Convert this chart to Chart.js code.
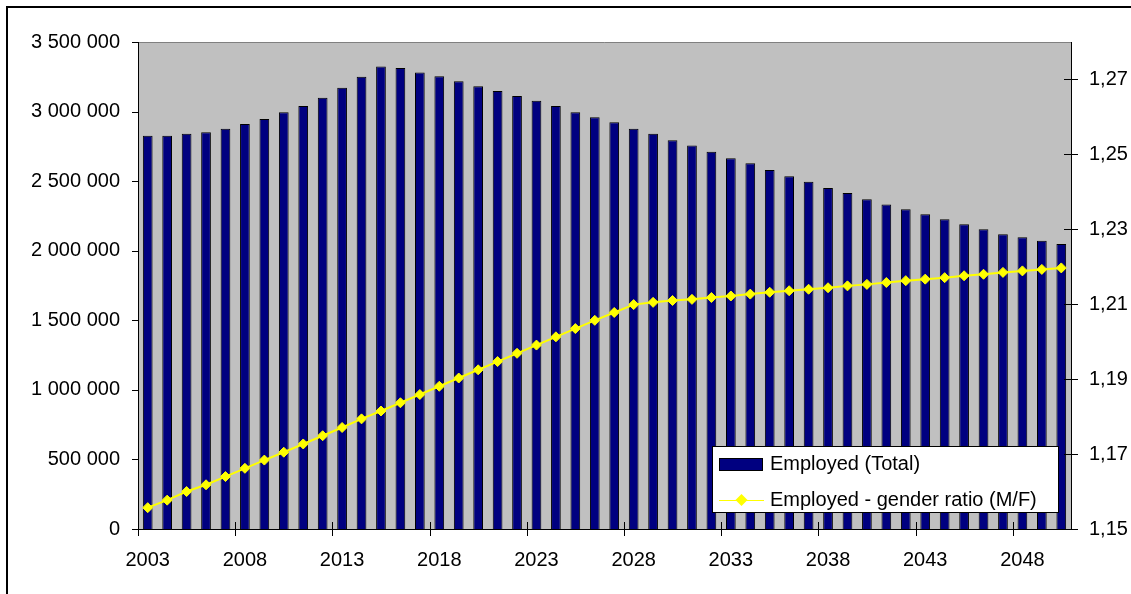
<!DOCTYPE html>
<html>
<head>
<meta charset="utf-8">
<title>Employed</title>
<script src="https://cdn.jsdelivr.net/npm/chart.js@4"></script>
<style>
    html, body { margin: 0; padding: 0; background: #fff; }
    #chart { display: block; }
</style>
</head>
<body>
<canvas id="chart" width="1131" height="594"></canvas>
<script>
// Data
const years = [
    '2003', '2004', '2005', '2006', '2007', '2008', '2009', '2010', '2011', '2012',
    '2013', '2014', '2015', '2016', '2017', '2018', '2019', '2020', '2021', '2022',
    '2023', '2024', '2025', '2026', '2027', '2028', '2029', '2030', '2031', '2032',
    '2033', '2034', '2035', '2036', '2037', '2038', '2039', '2040', '2041', '2042',
    '2043', '2044', '2045', '2046', '2047', '2048', '2049', '2050'
];

const employedTotal = [
    2827000, 2827000, 2841000, 2851000, 2877000, 2911000, 2947000, 2995000, 3040000, 3100000,
    3172000, 3251000, 3324000, 3313000, 3280000, 3254000, 3218000, 3182000, 3148000, 3112000,
    3078000, 3040000, 2995000, 2959000, 2923000, 2877000, 2841000, 2793000, 2757000, 2712000,
    2664000, 2628000, 2580000, 2535000, 2496000, 2451000, 2415000, 2369000, 2333000, 2298000,
    2262000, 2226000, 2190000, 2154000, 2118000, 2096000, 2072000, 2048000
];

const genderRatio = [
    1.1557, 1.1577, 1.1600, 1.1618, 1.1640, 1.1662, 1.1684, 1.1705, 1.1727, 1.1749,
    1.1771, 1.1794, 1.1815, 1.1837, 1.1859, 1.1881, 1.1903, 1.1925, 1.1947, 1.1969,
    1.1991, 1.2013, 1.2035, 1.2057, 1.2078, 1.2099, 1.2105, 1.2110, 1.2113, 1.2118,
    1.2122, 1.2127, 1.2132, 1.2136, 1.2140, 1.2144, 1.2149, 1.2153, 1.2158, 1.2163,
    1.2167, 1.2171, 1.2176, 1.2180, 1.2185, 1.2189, 1.2193, 1.2197
];

const leftTicks = [0, 500000, 1000000, 1500000, 2000000, 2500000, 3000000, 3500000];
const rightTicks = [1.15, 1.17, 1.19, 1.21, 1.23, 1.25, 1.27];
const yearStep = 5;

// Styles
const FONT = { family: '"Liberation Sans", Arial, sans-serif', size: 20 };
const BAR_COLOR = '#000080';
const LINE_COLOR = '#FFFF00';
const PLOT_BG = '#C0C0C0';
const legendBox = { x: 712, y: 446, w: 347, h: 67 };

function spaced(v) {
    return String(v).replace(/\B(?=(\d{3})+(?!\d))/g, ' ');
}

function commaDecimal(v) {
    return v.toFixed(2).replace('.', ',');
}

function crisp(v) {
    return Math.round(v) + 0.5;
}

// Gray plot area, axis lines, tick marks and the legend box
const plotFrame = {
    id: 'plotFrame',
    beforeDraw(chart) {
        const { ctx, chartArea: a } = chart;
        ctx.save();
        ctx.fillStyle = '#fff';
        ctx.fillRect(0, 0, chart.width, chart.height);
        ctx.fillStyle = PLOT_BG;
        ctx.fillRect(a.left, a.top, a.right - a.left, a.bottom - a.top);

        // outer chart border
        ctx.strokeStyle = '#000';
        ctx.lineWidth = 2;
        ctx.beginPath();
        ctx.moveTo(7, chart.height);
        ctx.lineTo(7, 7);
        ctx.lineTo(chart.width, 7);
        ctx.stroke();
        ctx.restore();
    },
    afterDatasetsDraw(chart) {
        const { ctx, chartArea: a, scales } = chart;
        ctx.save();
        ctx.lineWidth = 1;

        // top edge of the plot area
        ctx.strokeStyle = '#808080';
        ctx.beginPath();
        ctx.moveTo(a.left, crisp(a.top));
        ctx.lineTo(a.right, crisp(a.top));
        ctx.stroke();

        // axis lines
        ctx.strokeStyle = '#000';
        ctx.beginPath();
        ctx.moveTo(crisp(a.left), a.top);
        ctx.lineTo(crisp(a.left), crisp(a.bottom));
        ctx.lineTo(crisp(a.right), crisp(a.bottom));
        ctx.lineTo(crisp(a.right), a.top);
        ctx.stroke();

        // tick marks
        ctx.beginPath();
        leftTicks.forEach(v => {
            const y = crisp(scales.yLeft.getPixelForValue(v));
            ctx.moveTo(a.left - 6, y);
            ctx.lineTo(a.left, y);
        });
        rightTicks.forEach(v => {
            const y = crisp(scales.yRight.getPixelForValue(v));
            ctx.moveTo(a.right - 7, y);
            ctx.lineTo(a.right + 7, y);
        });
        const x = scales.x;
        const step = x.getPixelForValue(1) - x.getPixelForValue(0);
        for (let i = 0; i < years.length; i += yearStep) {
            const px = crisp(x.getPixelForValue(i) - step / 2);
            ctx.moveTo(px, a.bottom - 7);
            ctx.lineTo(px, a.bottom + 7);
        }
        ctx.stroke();
        ctx.restore();
    },
    afterDraw(chart) {
        const { ctx } = chart;
        const [bars, line] = chart.data.datasets;
        const b = legendBox;
        ctx.save();
        ctx.fillStyle = '#fff';
        ctx.fillRect(b.x, b.y, b.w, b.h);
        ctx.strokeStyle = '#000';
        ctx.lineWidth = 1;
        ctx.strokeRect(b.x + 0.5, b.y + 0.5, b.w - 1, b.h - 1);

        // bar swatch
        ctx.fillStyle = bars.backgroundColor;
        ctx.fillRect(b.x + 7, b.y + 12, 44, 13);
        ctx.strokeRect(b.x + 7.5, b.y + 12.5, 43, 12);

        // line swatch with a marker
        const ly = b.y + 54;
        ctx.strokeStyle = line.borderColor;
        ctx.lineWidth = 1;
        ctx.beginPath();
        ctx.moveTo(b.x + 7, ly + 0.5);
        ctx.lineTo(b.x + 52, ly + 0.5);
        ctx.stroke();
        const cx = b.x + 29.5;
        ctx.fillStyle = line.pointBackgroundColor;
        ctx.beginPath();
        ctx.moveTo(cx, ly - 6);
        ctx.lineTo(cx + 6, ly);
        ctx.lineTo(cx, ly + 6);
        ctx.lineTo(cx - 6, ly);
        ctx.closePath();
        ctx.fill();

        ctx.fillStyle = '#000';
        ctx.font = FONT.size + 'px ' + FONT.family;
        ctx.textBaseline = 'middle';
        ctx.textAlign = 'left';
        ctx.fillText(bars.label, b.x + 58, b.y + 18);
        ctx.fillText(line.label, b.x + 58, ly);
        ctx.restore();
    }
};

new Chart(document.getElementById('chart'), {
    data: {
        labels: years,
        datasets: [{
            type: 'bar',
            label: 'Employed (Total)',
            data: employedTotal,
            yAxisID: 'yLeft',
            backgroundColor: BAR_COLOR,
            borderColor: '#000',
            borderWidth: 1,
            barPercentage: 0.5,
            categoryPercentage: 1,
            order: 2
        }, {
            type: 'line',
            label: 'Employed - gender ratio (M/F)',
            data: genderRatio,
            yAxisID: 'yRight',
            borderColor: LINE_COLOR,
            borderWidth: 2,
            pointStyle: 'rectRot',
            pointRadius: 5,
            pointBackgroundColor: LINE_COLOR,
            pointBorderColor: LINE_COLOR,
            pointBorderWidth: 1,
            tension: 0,
            order: 1
        }]
    },
    options: {
        responsive: false,
        animation: false,
        layout: { padding: { top: 42, left: 0, right: 0, bottom: 0 } },
        plugins: {
            legend: { display: false },
            tooltip: { enabled: false }
        },
        scales: {
            x: {
                type: 'category',
                offset: true,
                grid: { display: false, drawTicks: false },
                border: { display: false },
                ticks: {
                    autoSkip: false,
                    maxRotation: 0,
                    padding: 19,
                    color: '#000',
                    font: FONT,
                    callback: (v, i) => (i % yearStep === 0 ? years[i] : '')
                },
                afterFit: s => { s.height = 65; }
            },
            yLeft: {
                type: 'linear',
                position: 'left',
                min: 0,
                max: 3500000,
                afterBuildTicks: s => { s.ticks = leftTicks.map(v => ({ value: v })); },
                grid: { display: false, drawTicks: false },
                border: { display: false },
                ticks: {
                    padding: 18,
                    color: '#000',
                    font: FONT,
                    callback: v => spaced(v)
                },
                afterFit: s => { s.width = 138; }
            },
            yRight: {
                type: 'linear',
                position: 'right',
                min: 1.15,
                max: 1.28,
                afterBuildTicks: s => { s.ticks = rightTicks.map(v => ({ value: v })); },
                grid: { display: false, drawTicks: false },
                border: { display: false },
                ticks: {
                    padding: 18,
                    color: '#000',
                    font: FONT,
                    callback: v => commaDecimal(v)
                },
                afterFit: s => { s.width = 60; }
            }
        }
    },
    plugins: [plotFrame]
});
</script>
</body>
</html>
